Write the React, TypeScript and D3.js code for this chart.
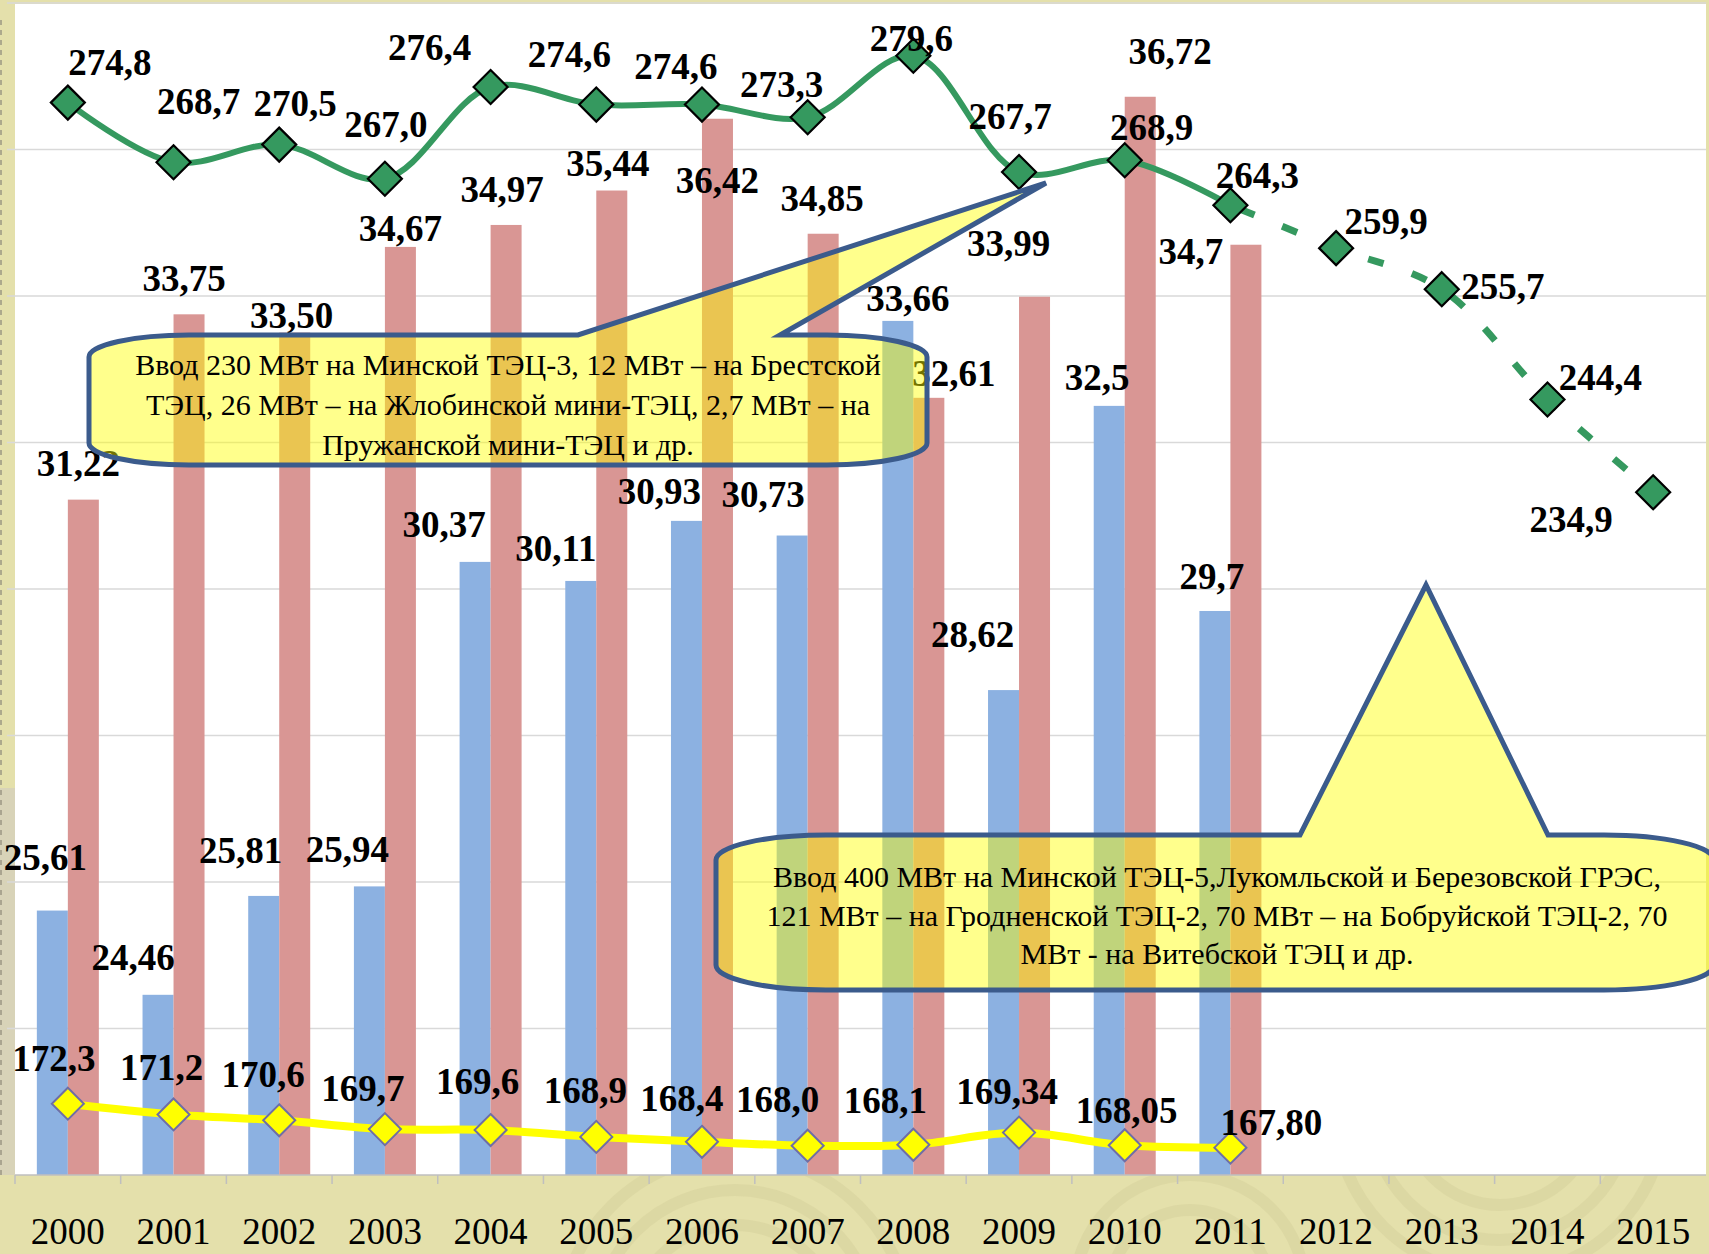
import React from 'react';
import * as d3 from 'd3';

// ---------- data ----------
const years = ['2000', '2001', '2002', '2003', '2004', '2005', '2006', '2007', '2008', '2009', '2010', '2011', '2012', '2013', '2014', '2015'];
const blueValues = [25.61, 24.46, 25.81, 25.94, 30.37, 30.11, 30.93, 30.73, 33.66, 28.62, 32.5, 29.7];
const blueLabels = ['25,61', '24,46', '25,81', '25,94', '30,37', '30,11', '30,93', '30,73', '33,66', '28,62', '32,5', '29,7'];
const redValues = [31.22, 33.75, 33.5, 34.67, 34.97, 35.44, 36.42, 34.85, 32.61, 33.99, 36.72, 34.7];
const redLabels = ['31,22', '33,75', '33,50', '34,67', '34,97', '35,44', '36,42', '34,85', '32,61', '33,99', '36,72', '34,7'];
const greenValues = [274.8, 268.7, 270.5, 267.0, 276.4, 274.6, 274.6, 273.3, 279.6, 267.7, 268.9, 264.3, 259.9, 255.7, 244.4, 234.9];
const greenLabels = ['274,8', '268,7', '270,5', '267,0', '276,4', '274,6', '274,6', '273,3', '279,6', '267,7', '268,9', '264,3', '259,9', '255,7', '244,4', '234,9'];
const yellowValues = [172.3, 171.2, 170.6, 169.7, 169.6, 168.9, 168.4, 168.0, 168.1, 169.34, 168.05, 167.8];
const yellowLabels = ['172,3', '171,2', '170,6', '169,7', '169,6', '168,9', '168,4', '168,0', '168,1', '169,34', '168,05', '167,80'];
const lastActualIndex = 11;

const barDomain = [22, 38];
const lineDomain = [165, 285];

const callout1Lines = [
  'Ввод 230 МВт на Минской ТЭЦ-3, 12 МВт – на Брестской',
  'ТЭЦ, 26 МВт – на Жлобинской мини-ТЭЦ, 2,7 МВт – на',
  'Пружанской мини-ТЭЦ и др.',
];
const callout2Lines = [
  'Ввод 400 МВт на Минской ТЭЦ-5,Лукомльской и Березовской ГРЭС,',
  '121 МВт – на Гродненской ТЭЦ-2, 70 МВт – на Бобруйской ТЭЦ-2, 70',
  'МВт - на Витебской ТЭЦ и др.',
];

// ---------- label placement (layout offsets from each mark) ----------
const blueLabelOffsets = [[-7, -53], [-25, -37], [-23, -45], [-22, -37], [-31, -37], [-25, -33], [-27, -29], [-29, -41], [10, -22], [-31, -56], [-12, -28], [-3, -35]];
const redLabelOffsets = [[-5, -36], [-5, -36], [-3, -17], [0, -19], [-4, -36], [-4, -27], [0, 62], [-1, -35], [25, -24], [-26, -53], [30, -45], [-55, 7]];
const greenLabelOffsets = [[42, -40], [25, -61], [16, -41], [1, -54], [-61, -40], [-27, -50], [-26, -38], [-26, -33], [-2, -17], [-9, -56], [27, -33], [27, -30], [50, -27], [61, -3], [53, -22], [-82, 27]];
const yellowLabelOffsets = [[-14, -45], [-12, -47], [-16, -46], [-22, -41], [-13, -49], [-11, -46], [-20, -43], [-30, -46], [-28, -44], [-12, -41], [2, -35], [41, -25]];

// ---------- layout ----------
const W = 1709;
const H = 1254;
const plotLeft = 15;
const plotRight = 1706;
const plotTop = 3;
const plotBottom = 1175;
const FONT = "'Liberation Serif', 'Times New Roman', serif";
const LABEL_SIZE = 37;
const CALLOUT_SIZE = 30;
const BG = '#e4e0ab';

const x = d3.scaleBand<string>().domain(years).range([plotLeft, plotRight]).paddingInner(0).paddingOuter(0);
const yBar = d3.scaleLinear().domain(barDomain).range([plotBottom, plotTop]);
const yLine = d3.scaleLinear().domain(lineDomain).range([plotBottom, plotTop]);
const barW = 31;
const cx = (i: number) => (x(years[i]) as number) + x.bandwidth() / 2;

const lineGen = d3
  .line<[number, number]>()
  .x((d) => d[0])
  .y((d) => d[1])
  .curve(d3.curveCatmullRom.alpha(0.5));

const greenPts: [number, number][] = greenValues.map((v, i) => [cx(i), yLine(v)]);
const yellowPts: [number, number][] = yellowValues.map((v, i) => [cx(i), yLine(v)]);

function diamond(cxp: number, cyp: number, r: number) {
  return `M${cxp},${cyp - r}L${cxp + r},${cyp}L${cxp},${cyp + r}L${cxp - r},${cyp}Z`;
}

function calloutPath(l: number, t: number, r: number, b: number, rx: number, ry: number, px1: number, px2: number, tipX: number, tipY: number) {
  return [
    `M${l + rx},${t}`,
    `L${px1},${t}`,
    `L${tipX},${tipY}`,
    `L${px2},${t}`,
    `L${r - rx},${t}`,
    `A${rx},${ry} 0 0 1 ${r},${t + ry}`,
    `L${r},${b - ry}`,
    `A${rx},${ry} 0 0 1 ${r - rx},${b}`,
    `L${l + rx},${b}`,
    `A${rx},${ry} 0 0 1 ${l},${b - ry}`,
    `L${l},${t + ry}`,
    `A${rx},${ry} 0 0 1 ${l + rx},${t}`,
    'Z',
  ].join(' ');
}

const gridValues = d3.range(barDomain[0] + 2, barDomain[1] + 0.001, 2);

function Label({ xp, yp, text }: { xp: number; yp: number; text: string }) {
  return (
    <text x={xp} y={yp + LABEL_SIZE * 0.34} textAnchor="middle" fontFamily={FONT} fontWeight="bold" fontSize={LABEL_SIZE} fill="#000">
      {text}
    </text>
  );
}

export default function App() {
  return (
    <svg width={W} height={H} viewBox={`0 0 ${W} ${H}`} style={{ position: 'absolute', left: 0, top: 0, display: 'block' }}>
      <defs>
        <clipPath id="pageClip">
          <rect x={0} y={0} width={W} height={H} />
        </clipPath>
      </defs>
      {/* background */}
      <rect x={0} y={0} width={W} height={H} fill={BG} />
      <g fill="none" stroke="#cfc995" strokeOpacity={0.35}>
        {[70, 105, 140, 175].map((r) => (
          <circle key={'a' + r} cx={735} cy={1330} r={r} strokeWidth={12} />
        ))}
        {[95, 130, 165].map((r) => (
          <circle key={'b' + r} cx={1500} cy={1110} r={r} strokeWidth={12} />
        ))}
        {[80, 115].map((r) => (
          <circle key={'c' + r} cx={1190} cy={1290} r={r} strokeWidth={12} />
        ))}
      </g>
      <rect x={0} y={788} width={plotLeft} height={plotBottom - 788} fill="#d8d3b8" />
      <line x1={1} x2={1} y1={20} y2={plotBottom} stroke="#9a9682" strokeWidth={1.5} strokeDasharray="5 5" />

      {/* plot area */}
      <rect x={plotLeft} y={4} width={plotRight - plotLeft} height={plotBottom - 4} fill="#ffffff" />
      {gridValues.map((v) => (
        <line key={v} x1={plotLeft - 8} x2={plotRight} y1={yBar(v)} y2={yBar(v)} stroke="#d9d9d9" strokeWidth={1.5} />
      ))}

      {/* bars */}
      {blueValues.map((v, i) => (
        <rect key={'bb' + i} x={cx(i) - barW} y={yBar(v)} width={barW} height={plotBottom - yBar(v)} fill="#8cb1e1" />
      ))}
      {redValues.map((v, i) => (
        <rect key={'rb' + i} x={cx(i)} y={yBar(v)} width={barW} height={plotBottom - yBar(v)} fill="#d99694" />
      ))}

      {/* axis */}
      <line x1={plotLeft} x2={plotRight} y1={plotBottom} y2={plotBottom} stroke="#bfbfbf" strokeWidth={1.5} />
      {years.map((yr) => (
        <line key={'t' + yr} x1={x(yr) as number} x2={x(yr) as number} y1={plotBottom} y2={plotBottom + 9} stroke="#bfbfbf" strokeWidth={1.5} />
      ))}
      {years.map((yr, i) => (
        <text key={'yl' + yr} x={cx(i)} y={1244} textAnchor="middle" fontFamily={FONT} fontSize={37} fill="#000">
          {yr}
        </text>
      ))}

      {/* yellow line */}
      <path d={lineGen(yellowPts) as string} fill="none" stroke="#ffff00" strokeWidth={8} strokeLinecap="round" />
      {yellowPts.map((p, i) => (
        <path key={'ym' + i} d={diamond(p[0], p[1], 16)} fill="#ffff00" stroke="#6e6ea6" strokeWidth={2} />
      ))}

      {/* green line */}
      <path d={lineGen(greenPts.slice(0, lastActualIndex + 1)) as string} fill="none" stroke="#35995f" strokeWidth={6} strokeLinecap="round" />
      <path
        d={lineGen(greenPts.slice(lastActualIndex)) as string}
        fill="none"
        stroke="#35995f"
        strokeWidth={7}
        strokeDasharray="16 30"
        strokeDashoffset={-10}
      />
      {greenPts.map((p, i) => (
        <path key={'gm' + i} d={diamond(p[0], p[1], 17)} fill="#35995f" stroke="#000" strokeWidth={2.2} />
      ))}

      {/* data labels */}
      {blueValues.map((v, i) => (
        <Label key={'bl' + i} xp={cx(i) - barW / 2 + blueLabelOffsets[i][0]} yp={yBar(v) + blueLabelOffsets[i][1]} text={blueLabels[i]} />
      ))}
      {redValues.map((v, i) => (
        <Label key={'rl' + i} xp={cx(i) + barW / 2 + redLabelOffsets[i][0]} yp={yBar(v) + redLabelOffsets[i][1]} text={redLabels[i]} />
      ))}
      {greenPts.map((p, i) => (
        <Label key={'gl' + i} xp={p[0] + greenLabelOffsets[i][0]} yp={p[1] + greenLabelOffsets[i][1]} text={greenLabels[i]} />
      ))}
      {yellowPts.map((p, i) => (
        <Label key={'yl2' + i} xp={p[0] + yellowLabelOffsets[i][0]} yp={p[1] + yellowLabelOffsets[i][1]} text={yellowLabels[i]} />
      ))}

      {/* callouts */}
      <g clipPath="url(#pageClip)">
        <path
          d={calloutPath(89, 335, 927, 465, 100, 22, 578, 780, 1046, 183)}
          fill="rgba(255,255,0,0.45)"
          stroke="#3b5b8c"
          strokeWidth={5}
          strokeLinejoin="miter"
        />
        {callout1Lines.map((ln, k) => (
          <text key={'c1' + k} x={508} y={375 + k * 40} textAnchor="middle" fontFamily={FONT} fontSize={CALLOUT_SIZE} fill="#000">
            {ln}
          </text>
        ))}
        <path
          d={calloutPath(716, 835, 1714, 990, 110, 25, 1300, 1548, 1426, 585)}
          fill="rgba(255,255,0,0.45)"
          stroke="#3b5b8c"
          strokeWidth={5}
          strokeLinejoin="miter"
        />
        {callout2Lines.map((ln, k) => (
          <text key={'c2' + k} x={1217} y={887 + k * 38.5} textAnchor="middle" fontFamily={FONT} fontSize={CALLOUT_SIZE} fill="#000">
            {ln}
          </text>
        ))}
      </g>
    </svg>
  );
}
